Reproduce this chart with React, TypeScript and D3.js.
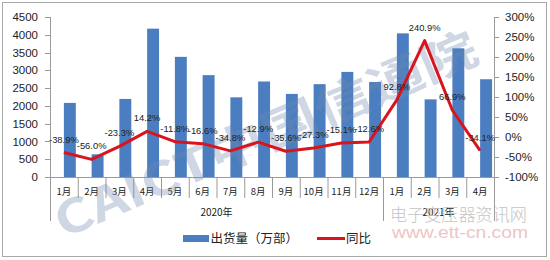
import React from "react";
import * as d3 from "d3";

const months = ["1月","2月","3月","4月","5月","6月","7月","8月","9月","10月","11月","12月","1月","2月","3月","4月"];
const years = [
  { label: "2020年", from: 0, to: 12 },
  { label: "2021年", from: 12, to: 16 },
];
const shipments = [2083.8, 638.2, 2195.3, 4172.4, 3378.8, 2864.9, 2240.7, 2686.5, 2336.2, 2611.2, 2955.7, 2671.5, 4040.1, 2183.9, 3619.6, 2749.4];
const yoy = [-38.9, -56.0, -23.3, 14.2, -11.8, -16.6, -34.8, -12.9, -35.6, -27.3, -15.1, -12.6, 92.8, 240.9, 66.9, -34.1];
const leftTicks = [0, 500, 1000, 1500, 2000, 2500, 3000, 3500, 4000, 4500];
const rightTicks = [-100, -50, 0, 50, 100, 150, 200, 250, 300];
const legendBar = "出货量（万部）";
const legendLine = "同比";

const W = 550, H = 260;
const L = 50, R = 494, T = 17, B = 177;
const BLUE = "#4a7ec0";
const RED = "#d9141c";
const AXIS = "#9a9a9a";
const FONT = "'Liberation Sans', Arial, sans-serif";
const CJK = "'Noto Sans CJK SC', sans-serif";

export default function App() {
  const idx = months.map((_, i) => i);
  const x = d3.scaleBand<number>().domain(idx).range([L, R]).paddingInner(0).paddingOuter(0);
  const bw = x.bandwidth();
  const yL = d3.scaleLinear().domain([0, 4500]).range([B, T]);
  const yR = d3.scaleLinear().domain([-100, 300]).range([B, T]);
  const cx = (i: number) => (x(i) as number) + bw / 2;
  const barW = bw * 0.43;
  const line = d3.line<number>().x((_, i) => cx(i)).y((v) => yR(v));
  const edge = (i: number) => L + i * bw;

  return (
    <svg width={W} height={H} style={{ position: "fixed", left: 0, top: 0, background: "#fff" }}>
      <rect x={0} y={0} width={W} height={H} fill="#fff" />
      <rect x={2.5} y={2.5} width={544} height={254} fill="none" stroke="#a8a8a8" strokeWidth={1} />

      {/* bars */}
      {shipments.map((v, i) => (
        <rect key={i} x={cx(i)} y={yL(v)} width={barW} height={B - yL(v)} fill={BLUE} />
      ))}

      {/* left axis */}
      <line x1={L + 0.5} x2={L + 0.5} y1={T} y2={221} stroke={AXIS} />
      {leftTicks.map((t) => (
        <g key={t}>
          <line x1={L - 5} x2={L} y1={Math.round(yL(t)) + 0.5} y2={Math.round(yL(t)) + 0.5} stroke={AXIS} />
          <text x={38} y={yL(t)} dy="0.36em" textAnchor="end" fontFamily={FONT} fontSize={11.5} fill="#222">{t}</text>
        </g>
      ))}

      {/* right axis */}
      <line x1={R + 0.5} x2={R + 0.5} y1={T} y2={221} stroke={AXIS} />
      {rightTicks.map((t) => (
        <g key={t}>
          <line x1={R} x2={R + 5} y1={Math.round(yR(t)) + 0.5} y2={Math.round(yR(t)) + 0.5} stroke={AXIS} />
          <text x={505} y={yR(t)} dy="0.36em" textAnchor="start" fontFamily={FONT} fontSize={11.5} fill="#222">{t}%</text>
        </g>
      ))}

      {/* x axis */}
      <line x1={L} x2={R} y1={B + 0.5} y2={B + 0.5} stroke={AXIS} />
      {idx.slice(1).map((i) => {
        const isGroup = years.some((yy) => yy.from === i);
        return (
          <line key={i} x1={edge(i) + 0.5} x2={edge(i) + 0.5} y1={B} y2={isGroup ? 221 : 198} stroke={AXIS} />
        );
      })}
      {months.map((m, i) => (
        <text key={i} x={cx(i)} y={192} dy="0.35em" textAnchor="middle" fontFamily={CJK} fontSize={9.5} fill="#222">{m}</text>
      ))}
      {years.map((yy) => (
        <text key={yy.label} x={(edge(yy.from) + edge(yy.to)) / 2} y={212} dy="0.35em" textAnchor="middle" fontFamily={CJK} fontSize={10} fill="#222">{yy.label}</text>
      ))}

      {/* watermarks */}
      <g transform="translate(266,135) rotate(-23)" opacity={0.33}>
        <text x={0} y={0} dy="0.35em" textAnchor="middle" fontFamily={CJK} fontWeight={700} fontSize={46} fill="#7088b0" textLength={455} lengthAdjust="spacingAndGlyphs">CAICT中国信通院</text>
      </g>
      <text x={390} y={215} dy="0.35em" fontFamily={CJK} fontWeight={300} fontSize={17} fill="#c4c4c4" textLength={137} lengthAdjust="spacingAndGlyphs">电子变压器资讯网</text>
      <text x={392} y={232} dy="0.35em" fontFamily={FONT} fontSize={17} fill="#f0c4c4" textLength={136} lengthAdjust="spacingAndGlyphs">www.ett-cn.com</text>

      {/* line */}
      <path d={line(yoy) || ""} fill="none" stroke={RED} strokeWidth={3} strokeLinejoin="round" />
      {yoy.map((v, i) => (
        <text key={i} x={cx(i)} y={yR(v) - 10} textAnchor="middle" fontFamily={FONT} fontSize={9.4} fill="#222">
          {v.toFixed(1)}%
        </text>
      ))}

      {/* legend */}
      <rect x={183} y={235} width={26} height={7} fill={BLUE} />
      <text x={210.5} y={238.5} dy="0.36em" fontFamily={CJK} fontSize={12.5} fill="#222">{legendBar}</text>
      <line x1={317} x2={345} y1={238.5} y2={238.5} stroke={RED} strokeWidth={3} />
      <text x={346} y={238.5} dy="0.36em" fontFamily={CJK} fontSize={12.5} fill="#222">{legendLine}</text>
    </svg>
  );
}
